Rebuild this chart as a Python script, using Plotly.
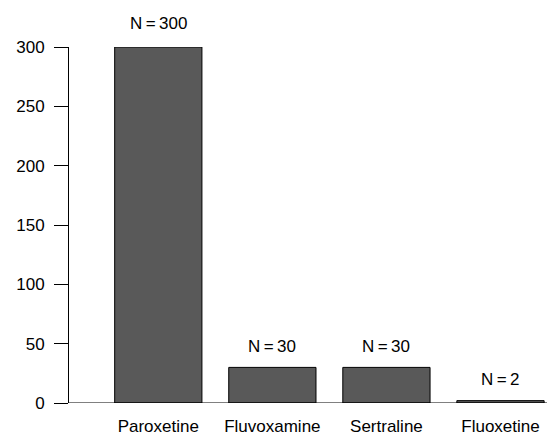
import plotly.graph_objects as go

categories = ["Paroxetine", "Fluvoxamine", "Sertraline", "Fluoxetine"]
counts = [300, 30, 30, 2]
labels = ["N=300", "N=30", "N=30", "N=2"]
y_ticks = [0, 50, 100, 150, 200, 250, 300]

xpos = list(range(1, len(categories) + 1))

fig = go.Figure()
fig.add_trace(go.Bar(
    x=xpos, y=counts, width=0.765,
    marker=dict(color="#595959", line=dict(color="black", width=1)),
    cliponaxis=False, showlegend=False, hoverinfo="skip",
))

for xv, yv, t in zip(xpos, counts, labels):
    fig.add_annotation(x=xv, y=yv, text=t.replace("=", "\u2009=\u2009"), showarrow=False,
                       yanchor="middle", yshift=21 if yv < 100 else 24,
                       font=dict(size=17, color="black"))

fig.add_shape(type="line", xref="paper", yref="y", x0=0, x1=1.02, y0=0, y1=0,
              line=dict(color="black", width=1))

fig.update_layout(
    width=555, height=436,
    margin=dict(l=55, r=8, t=39, b=39),
    paper_bgcolor="white", plot_bgcolor="white",
    font=dict(family="Liberation Sans, Arial, sans-serif", size=17, color="black"),
    xaxis=dict(range=[0.217, 4.478], tickmode="array", tickvals=xpos, ticktext=categories,
               showline=False, showgrid=False, zeroline=False, ticks="",
               ticklabelstandoff=11, tickfont=dict(size=17)),
    yaxis=dict(range=[0, 300], tickmode="array", tickvals=y_ticks,
               showline=True, linecolor="black", linewidth=1,
               ticks="outside", ticklen=14, tickcolor="black", tickwidth=1,
               ticklabelstandoff=6,
               showgrid=False, zeroline=False, tickfont=dict(size=17)),
)

fig.write_html("out.html")
